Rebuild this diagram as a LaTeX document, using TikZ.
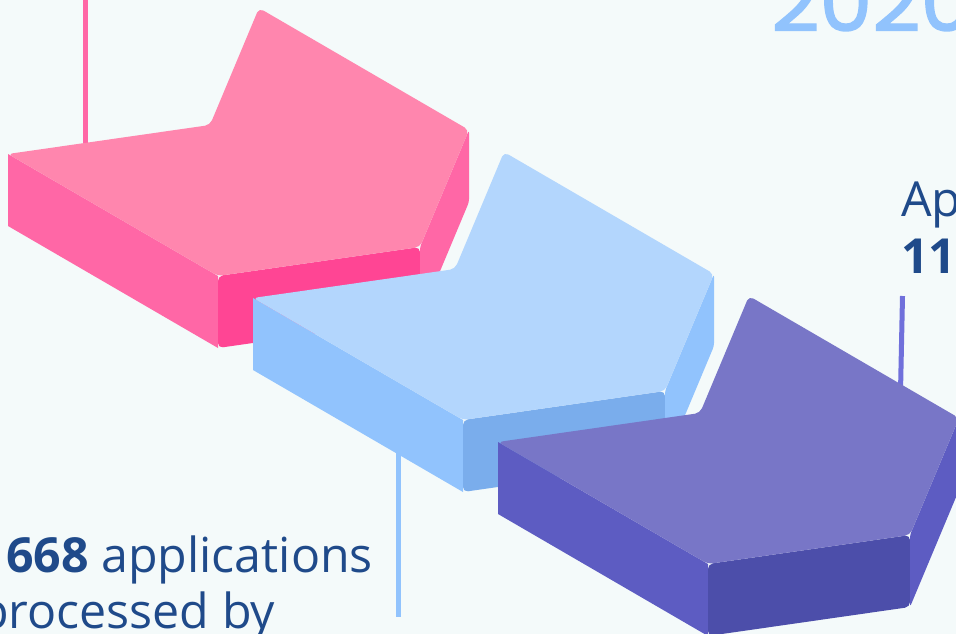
\documentclass[tikz,border=0pt]{standalone}
\usepackage{fontspec}
\setmainfont{Open Sans}
\newfontfamily\yearfont[FakeBold=1.6]{Poppins}
\definecolor{bgc}{HTML}{F4FAFA}
\definecolor{txt}{HTML}{1F4A8A}
\definecolor{pinkTopC}{HTML}{FF86AE}
\definecolor{pinkSideC}{HTML}{FF67A6}
\definecolor{pinkFrontC}{HTML}{FF4594}
\definecolor{blueTopC}{HTML}{B3D6FD}
\definecolor{blueSideC}{HTML}{91C3FD}
\definecolor{blueFrontC}{HTML}{7AADEC}
\definecolor{purpTopC}{HTML}{7876C7}
\definecolor{purpSideC}{HTML}{5D5CC2}
\definecolor{purpFrontC}{HTML}{4C4EAA}
\definecolor{purpLineC}{HTML}{7070DB}
\newcommand\drawchevron[5]{%
  \begin{scope}[shift={(#1,#2)}]
    \fill[#4] (8,154) -- (218,276) -- (218,348) -- (8,226) -- cycle;
    \fill[#5, rounded corners=5] (218,276) -- (420,247) -- (420,319) -- (218,348) -- cycle;
    \fill[#4, rounded corners=3] (420,247) -- (469,130) -- (469,202) -- (420,319) -- cycle;
    \fill[#3, rounded corners=5] (8,154) -- (210,125) -- (259,8) -- (469,130) -- (420,247) -- (218,276) -- cycle;
  \end{scope}}
\tikzset{
  stem/.style={line width=5pt},
  label/.style={inner sep=0pt, anchor=base west, text=txt, font=\fontsize{48.3}{57}\selectfont}
}
\begin{document}
\begin{tikzpicture}[x=1pt,y=-1pt]
\useasboundingbox (0,0) rectangle (956,634);
\fill[bgc] (0,0) rectangle (956,634);

% year
\node[inner sep=0pt, anchor=base west, text=blueSideC, font=\yearfont\fontsize{84}{84}\selectfont] (year) at (771,31) {2020};

% pink stem and block
\coordinate (pinkStemTop) at (85,-5);
\coordinate (pinkStemEnd) at (85,150);
\draw[stem, pinkSideC] (pinkStemTop) -- (pinkStemEnd);
\drawchevron{0}{0}{pinkTopC}{pinkSideC}{pinkFrontC}

% blue stem and block
\coordinate (blueStemTop) at (398,440);
\coordinate (blueStemEnd) at (398,617);
\draw[stem, blueSideC] (blueStemTop) -- (blueStemEnd);
\drawchevron{245}{144}{blueTopC}{blueSideC}{blueFrontC}

% purple stem and block
\coordinate (purpStemTop) at (902.5,296);
\coordinate (purpStemEnd) at (900.5,392);
\draw[stem, purpLineC] (purpStemTop) -- (purpStemEnd);
\drawchevron{490}{288}{purpTopC}{purpSideC}{purpFrontC}

% texts
\node[label] (apLine) at (901,216) {Ap};
\node[label] (elevLine) at (901,273) {\textbf{11}};
\node[label] (appLine) at (6,572) {\textbf{668} applications};
\node[label] (procLine) at (-21,628) {processed by};
\end{tikzpicture}
\end{document}
